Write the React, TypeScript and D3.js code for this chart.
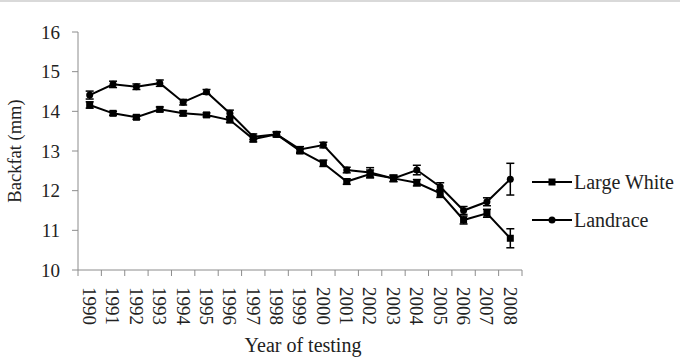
import React from 'react';
import { scaleBand, scaleLinear, line, range } from 'd3';

const years = range(1990, 2009).map(String);
const largeWhite = [14.16, 13.95, 13.85, 14.05, 13.95, 13.91, 13.78, 13.3, 13.42, 13.0, 12.69, 12.23, 12.42, 12.31, 12.2, 11.93, 11.26, 11.43, 10.8];
const largeWhiteErr = [0.08, 0.05, 0.05, 0.06, 0.06, 0.05, 0.06, 0.07, 0.06, 0.06, 0.08, 0.07, 0.1, 0.08, 0.08, 0.1, 0.1, 0.1, 0.24];
const landrace = [14.41, 14.68, 14.62, 14.71, 14.23, 14.49, 13.95, 13.36, 13.42, 13.04, 13.15, 12.52, 12.46, 12.31, 12.52, 12.1, 11.5, 11.72, 12.29];
const landraceErr = [0.1, 0.08, 0.07, 0.08, 0.07, 0.06, 0.08, 0.07, 0.06, 0.07, 0.07, 0.07, 0.12, 0.08, 0.12, 0.1, 0.1, 0.1, 0.4];
const yTicks = [10, 11, 12, 13, 14, 15, 16];

const width = 680;
const height = 360;
const margin = { top: 32, right: 158, bottom: 90, left: 78 };
const innerW = width - margin.left - margin.right;
const innerH = height - margin.top - margin.bottom;

const font = '"Liberation Serif", "Times New Roman", serif';
const axisColor = '#8c8c8c';

const x = scaleBand<string>().domain(years).range([0, innerW]);
const y = scaleLinear().domain([10, 16]).range([innerH, 0]);
const cx = (yr: string) => (x(yr) as number) + x.bandwidth() / 2;

const series = [
  { name: 'Large White', values: largeWhite, errs: largeWhiteErr, shape: 'square' },
  { name: 'Landrace', values: landrace, errs: landraceErr, shape: 'circle' },
];

const Marker = ({ shape, px, py }: { shape: string; px: number; py: number }) =>
  shape === 'square' ? (
    <rect x={px - 3.5} y={py - 3.5} width={7} height={7} fill='black' />
  ) : (
    <circle cx={px} cy={py} r={3.5} fill='black' />
  );

export default function App() {
  const path = line<number>()
    .x((_, i) => cx(years[i]))
    .y(d => y(d));

  return (
    <svg
      width={width}
      height={height}
      style={{ position: 'absolute', left: 0, top: 0, background: 'white' }}
      fontFamily={font}>
      <line x1={0} x2={width} y1={1} y2={1} stroke='#d9d9d9' strokeWidth={2} />
      <g transform={`translate(${margin.left}, ${margin.top})`}>
        {/* y axis */}
        <line x1={0} x2={0} y1={0} y2={innerH} stroke={axisColor} />
        {yTicks.map(t => (
          <g key={t} transform={`translate(0, ${y(t)})`}>
            <line x1={-6} x2={0} stroke={axisColor} />
            <text x={-18} dy='.35em' textAnchor='end' fontSize={19} fill='#222'>
              {t}
            </text>
          </g>
        ))}
        {/* x axis */}
        <line x1={0} x2={innerW} y1={innerH} y2={innerH} stroke={axisColor} />
        {years.map(yr => (
          <line
            key={'t' + yr}
            x1={x(yr) as number}
            x2={x(yr) as number}
            y1={innerH}
            y2={innerH + 6}
            stroke={axisColor}
          />
        ))}
        <line x1={innerW} x2={innerW} y1={innerH} y2={innerH + 6} stroke={axisColor} />
        {years.map(yr => (
          <text
            key={'l' + yr}
            transform={`translate(${cx(yr)}, ${innerH + 17}) rotate(90)`}
            dy='.35em'
            fontSize={19}
            fill='#222'>
            {yr}
          </text>
        ))}
        {/* series */}
        {series.map(s => (
          <g key={s.name}>
            <path d={path(s.values) as string} fill='none' stroke='black' strokeWidth={2} />
            {s.values.map((v, i) => {
              const px = cx(years[i]);
              const y1 = y(v + s.errs[i]);
              const y2 = y(v - s.errs[i]);
              return (
                <g key={i}>
                  <line x1={px} x2={px} y1={y1} y2={y2} stroke='black' strokeWidth={1.5} />
                  <line x1={px - 4} x2={px + 4} y1={y1} y2={y1} stroke='black' strokeWidth={1.5} />
                  <line x1={px - 4} x2={px + 4} y1={y2} y2={y2} stroke='black' strokeWidth={1.5} />
                  <Marker shape={s.shape} px={px} py={y(v)} />
                </g>
              );
            })}
          </g>
        ))}
      </g>
      {/* axis titles */}
      <text
        transform={`translate(21, ${margin.top + innerH / 2}) rotate(-90)`}
        textAnchor='middle'
        fontSize={18.5}
        fill='#222'>
        Backfat (mm)
      </text>
      <text x={303} y={352} textAnchor='middle' fontSize={20} fill='#222'>
        Year of testing
      </text>
      {/* legend */}
      {series.map((s, i) => {
        const ly = 182 + i * 38;
        return (
          <g key={s.name}>
            <line x1={532} x2={572} y1={ly} y2={ly} stroke='black' strokeWidth={2} />
            <Marker shape={s.shape} px={552} py={ly} />
            <text x={574} y={ly} dy='.35em' fontSize={20} fill='#222'>
              {s.name}
            </text>
          </g>
        );
      })}
    </svg>
  );
}
